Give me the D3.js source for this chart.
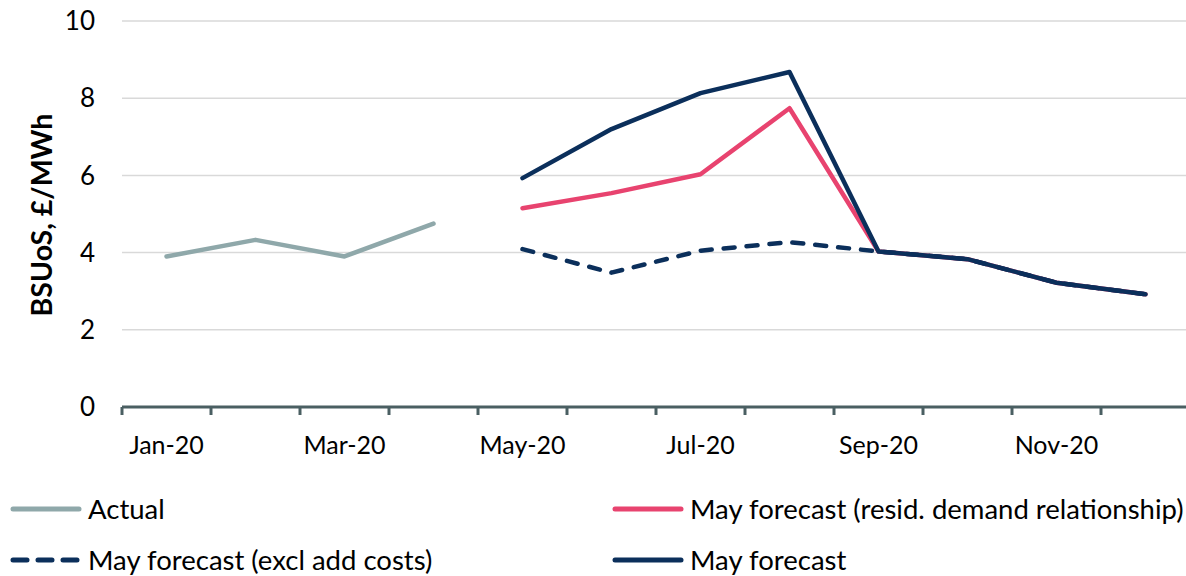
<!DOCTYPE html>
<html>
<head>
<meta charset="utf-8">
<script src="https://cdn.jsdelivr.net/npm/d3@7"></script>
<style>
  html, body { margin: 0; padding: 0; background: #fff; }
  svg { display: block; }
  text { font-family: Lato, "Open Sans", sans-serif; fill: #000; }
</style>
</head>
<body>
<svg id="chart" width="1186" height="576"></svg>
<script>
// Monthly BSUoS, £/MWh
const months = ["Jan-20","Feb-20","Mar-20","Apr-20","May-20","Jun-20","Jul-20","Aug-20","Sep-20","Oct-20","Nov-20","Dec-20"];
const labelledMonths = ["Jan-20","Mar-20","May-20","Jul-20","Sep-20","Nov-20"];
const yTicks = [0, 2, 4, 6, 8, 10];

const actual        = [3.9, 4.33, 3.9, 4.75, null, null, null, null, null, null, null, null];
const residForecast = [null, null, null, null, 5.15, 5.54, 6.03, 7.74, 4.03, 3.83, 3.22, 2.92];
const exclAddCosts  = [null, null, null, null, 4.09, 3.48, 4.05, 4.27, 4.03, 3.83, 3.22, 2.92];
const mayForecast   = [null, null, null, null, 5.93, 7.2, 8.13, 8.68, 4.03, 3.83, 3.22, 2.92];

const seriesNames = ["Actual", "May forecast (resid. demand relationship)", "May forecast (excl add costs)", "May forecast"];
const seriesColors = ["#8FA8AA", "#E8436F", "#0B2F5B", "#0B2F5B"];
const seriesDash = [null, null, "11 12", null];

const svg = d3.select("#chart");
const plotLeft = 122, plotRight = 1190, plotTop = 21, plotBottom = 407;

const x = d3.scaleBand().domain(months).range([plotLeft, plotRight]);
const y = d3.scaleLinear().domain([0, 10]).range([plotBottom, plotTop]);

// horizontal gridlines
svg.append("g").selectAll("line")
  .data(yTicks.filter(d => d > 0))
  .join("line")
  .attr("x1", plotLeft).attr("x2", 1186)
  .attr("y1", d => y(d)).attr("y2", d => y(d))
  .attr("stroke", "#D9D9D9").attr("stroke-width", 1.5);

// y tick labels
svg.append("g").selectAll("text")
  .data(yTicks)
  .join("text")
  .attr("x", 95).attr("y", d => y(d))
  .attr("dy", "0.35em")
  .attr("text-anchor", "end")
  .style("font-size", "26px")
  .text(d => d);

// y axis title
svg.append("text")
  .attr("transform", `translate(52,${(plotTop + plotBottom) / 2 + 1}) rotate(-90)`)
  .attr("text-anchor", "middle")
  .style("font-size", "28.5px")
  .style("font-weight", "bold")
  .text("BSUoS, £/MWh");

// x axis with ticks at category boundaries
const xAxis = d3.axisBottom(x).tickSize(0).tickFormat(() => "");
const axisG = svg.append("g").attr("transform", `translate(0,${plotBottom})`).call(xAxis);
axisG.select(".domain").attr("stroke", "#4A5F62").attr("stroke-width", 3).attr("d", `M${plotLeft},0H${1186}`);
const boundaries = months.map(m => x(m)).concat([x(months[months.length - 1]) + x.bandwidth()]);
axisG.selectAll(".bound").data(boundaries).join("line")
  .attr("class", "bound")
  .attr("x1", d => d).attr("x2", d => d)
  .attr("y1", 0).attr("y2", 8)
  .attr("stroke", "#4A5F62").attr("stroke-width", 3);
axisG.selectAll(".mlabel").data(labelledMonths).join("text")
  .attr("class", "mlabel")
  .attr("x", d => x(d) + x.bandwidth() / 2)
  .attr("y", 38)
  .attr("dy", "0.35em")
  .attr("text-anchor", "middle")
  .style("font-size", "25px")
  .text(d => d);

// series lines
const allSeries = [actual, residForecast, exclAddCosts, mayForecast];
const line = d3.line()
  .defined(d => d.v != null)
  .x(d => x(d.m) + x.bandwidth() / 2)
  .y(d => y(d.v));

allSeries.forEach((vals, i) => {
  svg.append("path")
    .datum(months.map((m, j) => ({ m, v: vals[j] })))
    .attr("d", line)
    .attr("fill", "none")
    .attr("stroke", seriesColors[i])
    .attr("stroke-width", 4.5)
    .attr("stroke-linejoin", "round")
    .attr("stroke-linecap", "round")
    .attr("stroke-dasharray", seriesDash[i]);
});

// legend
const legendItems = [
  { i: 0, x: 13, y: 509 },
  { i: 1, x: 615, y: 509 },
  { i: 2, x: 13, y: 560 },
  { i: 3, x: 615, y: 560 }
];
const lg = svg.append("g").selectAll("g").data(legendItems).join("g")
  .attr("transform", d => `translate(${d.x},${d.y})`);
lg.append("line")
  .attr("x1", 0).attr("x2", 66).attr("y1", 0).attr("y2", 0)
  .attr("stroke", d => seriesColors[d.i])
  .attr("stroke-width", 5)
  .attr("stroke-linecap", "round")
  .attr("stroke-dasharray", d => seriesDash[d.i] ? "14 11" : null);
lg.append("text")
  .attr("x", 75).attr("y", 0).attr("dy", "0.35em")
  .style("font-size", "27.5px")
  .text(d => seriesNames[d.i]);
</script>
</body>
</html>
